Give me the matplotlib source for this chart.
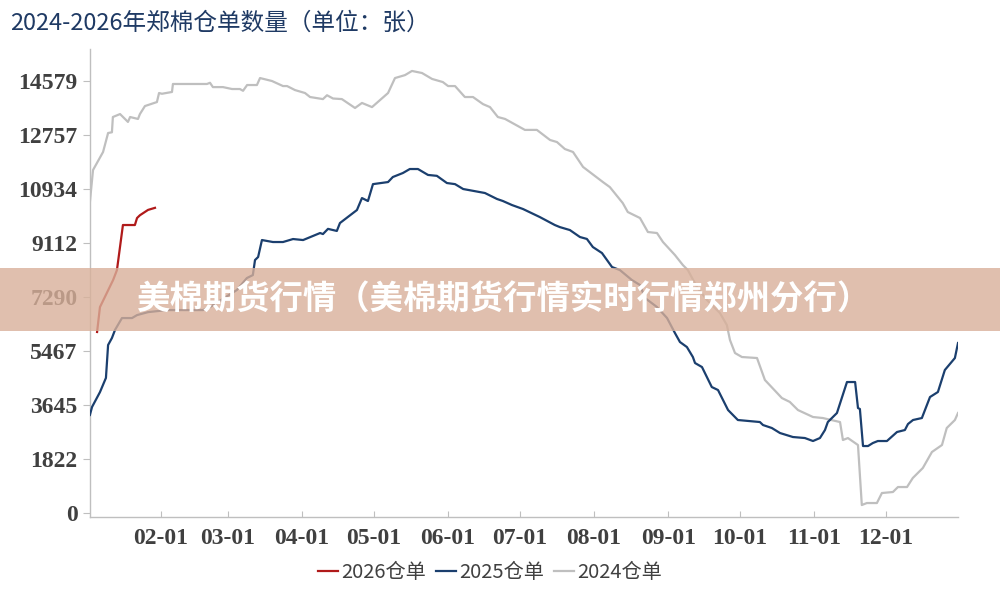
import matplotlib.pyplot as plt
from matplotlib.patches import Rectangle

plt.rcParams['font.family'] = ['Noto Sans CJK SC', 'DejaVu Sans']

# day of year (x) and number of warehouse receipts (y)
days_2026 = [4.3, 5.5, 11.0, 12.6, 15.1, 20.1, 21.0, 22.2, 25.6, 28.5]
vals_2026 = [6110, 6950, 7864, 8200, 9720, 9720, 9956, 10050, 10230, 10300]

days_2025 = [1.3, 2.2, 5.5, 8.0, 8.9, 10.5, 11.8, 14.7, 18.9, 21.0, 25.6, 33.5, 48.6, 51.5,
             62.7, 66.9, 69.4, 70.3, 71.6, 73.2, 77.8, 82.0, 86.2, 90.4, 97.5, 98.7,
             100.8, 104.5, 105.8, 112.9, 115.0, 117.5, 119.6, 125.9, 127.9, 132.1, 135.0,
             138.4, 142.6, 146.3, 150.5, 153.9, 157.3, 166.4, 171.4, 173.9, 177.7, 182.3,
             189.3, 195.6, 197.7, 201.9, 206.1, 209.0, 211.5, 215.3, 219.5, 222.8, 227.8,
             231.2, 233.3, 238.3, 242.5, 245.8, 247.9, 250.8, 253.3, 254.2, 257.1, 261.2,
             263.8, 268.0, 272.1, 281.3, 282.6, 286.3, 289.7, 295.1, 300.1, 303.5, 306.4,
             308.5, 309.7, 313.5, 317.7, 321.1, 322.3, 323.1, 324.4, 326.5, 328.5, 330.6,
             334.4, 338.6, 341.9, 343.2, 345.3, 349.0, 352.4, 355.7, 358.6, 362.8, 364.1]
vals_2025 = [3310, 3580, 4080, 4560, 5670, 5906, 6180, 6580, 6580, 6680, 6780, 6850, 6850, 6950,
             7526, 7930, 8030, 8538, 8640, 9213, 9146, 9146, 9247, 9213, 9450, 9415,
             9590, 9520, 9787, 10226, 10630, 10530, 11100, 11170, 11340, 11475, 11610,
             11610, 11410, 11380, 11137, 11100, 10935, 10800, 10600, 10530, 10394, 10260,
             9990, 9720, 9650, 9550, 9315, 9250, 8977, 8775, 8302, 8200, 7864,
             7695, 7256, 6952, 6581, 6075, 5771, 5602, 5265, 5062, 4927, 4252,
             4151, 3476, 3139, 3071, 2970, 2869, 2700, 2565, 2531, 2430, 2531,
             2801, 3071, 3375, 4421, 4421, 3544, 3510, 2261, 2261, 2362, 2430,
             2430, 2734, 2801, 3004, 3139, 3206, 3915, 4084, 4826, 5231, 5737]

days_2024 = [1.3, 2.6, 6.8, 8.9, 10.5, 10.9, 13.9, 17.2, 18.1, 21.4, 22.2, 24.3, 29.3, 30.2,
             31.4, 35.6, 36.0, 50.2, 51.5, 52.7, 56.9, 60.7, 64.0, 65.3, 67.0, 71.1, 72.4,
             77.4, 82.0, 83.7, 87.0, 91.2, 93.3, 98.7, 100.4, 102.9, 106.6, 112.1, 115.0,
             119.2, 125.9, 128.8, 133.0, 135.9, 140.1, 144.3, 148.8, 151.0, 153.9, 158.0,
             161.4, 165.6, 168.5, 171.8, 174.8, 183.1, 188.1, 193.6, 196.5, 199.8, 203.2,
             207.4, 215.7, 218.6, 224.0, 226.1, 231.2, 234.5, 238.3, 240.8, 245.8, 249.1,
             251.2, 255.0, 259.2, 264.6, 267.5, 268.8, 270.9, 273.8, 280.1, 283.4, 290.5,
             293.8, 297.2, 303.5, 307.6, 314.8, 316.0, 318.1, 322.3, 323.9, 326.0, 330.2,
             332.3, 336.9, 339.0, 342.8, 345.2, 349.4, 353.2, 357.4, 359.4, 362.8, 364.1]
vals_2024 = [10500, 11575, 12185, 12825, 12850, 13365, 13465, 13200, 13365, 13300, 13465, 13735,
             13870, 14175, 14150, 14210, 14480, 14480, 14520, 14375, 14375, 14310, 14310, 14250,
             14445, 14445, 14680, 14580, 14410, 14410, 14275, 14175, 14040, 13970, 14100, 13990,
             13970, 13670, 13840, 13700, 14175, 14680, 14780, 14920, 14850, 14650, 14545, 14410,
             14410, 14040, 14040, 13800, 13700, 13365, 13300, 12930, 12930, 12590, 12520, 12285,
             12185, 11680, 11170, 11000, 10460, 10158, 9956, 9484, 9450, 9146, 8707, 8370,
             8200, 7627, 7188, 6750, 6345, 5839, 5400, 5265, 5231, 4490, 3880,
             3750, 3476, 3240, 3206, 3070, 2464, 2530, 2295, 270, 337, 337,
             675, 709, 877, 877, 1181, 1519, 2059, 2295, 2869, 3139, 3375]

y_ticks = [0, 1822, 3645, 5467, 7290, 9112, 10934, 12757, 14579]
month_days = [31, 59, 90, 120, 151, 181, 212, 243, 273, 304, 334]
month_labels = ['02-01', '03-01', '04-01', '05-01', '06-01', '07-01',
                '08-01', '09-01', '10-01', '11-01', '12-01']

fig = plt.figure(figsize=(10, 6), dpi=100)
ax = fig.add_axes([0.09, 0.1383, 0.868, 0.78])

ax.plot(days_2024, vals_2024, color='#bfbfbf', lw=1.6, label='2024仓单', zorder=2)
ax.plot(days_2025, vals_2025, color='#1b3f6e', lw=1.6, label='2025仓单', zorder=3)
ax.plot(days_2026, vals_2026, color='#b01a1a', lw=1.6, label='2026仓单', zorder=4)

ax.set_xlim(1.34, 364.1)
ax.set_ylim(-135, 15660)
ax.set_yticks(y_ticks)
ax.set_xticks(month_days)
ax.set_xticklabels(month_labels)

for s in ['top', 'right']:
    ax.spines[s].set_visible(False)
for s in ['left', 'bottom']:
    ax.spines[s].set_color('#bfbfbf')
    ax.spines[s].set_linewidth(1.0)

ax.tick_params(axis='y', direction='out', length=5, color='#bfbfbf', pad=4)
ax.tick_params(axis='x', direction='in', length=4, color='#bfbfbf', pad=8)
for lab in ax.get_yticklabels() + ax.get_xticklabels():
    lab.set_family('Liberation Serif')
    lab.set_fontweight('bold')
    lab.set_fontsize(17)
    lab.set_color('#404040')

handles, labels = ax.get_legend_handles_labels()
order = [2, 1, 0]
fig.legend([handles[i] for i in order], [labels[i] for i in order],
           loc='center', bbox_to_anchor=(0.49, 0.046), ncol=3, frameon=False,
           handlelength=1.0, handletextpad=0.15, columnspacing=0.5,
           prop={'family': ['Noto Sans CJK SC', 'DejaVu Sans'], 'size': 14.5},
           labelcolor='#404040')

fig.text(0.01, 0.962, '2024-2026年郑棉仓单数量（单位：张）', fontsize=17,
         color='#1f3a64', ha='left', va='center')

# overlay banner
fig.add_artist(Rectangle((0, 1 - 331 / 600), 1, 63 / 600, transform=fig.transFigure,
                         facecolor='#d9b09a', alpha=0.8, edgecolor='none', zorder=10))
fig.text(0.503, 1 - 300 / 600, '美棉期货行情（美棉期货行情实时行情郑州分行）',
         fontsize=24, fontweight='bold', color='white', ha='center', va='center', zorder=11)

fig.savefig('out.png', dpi=100)
